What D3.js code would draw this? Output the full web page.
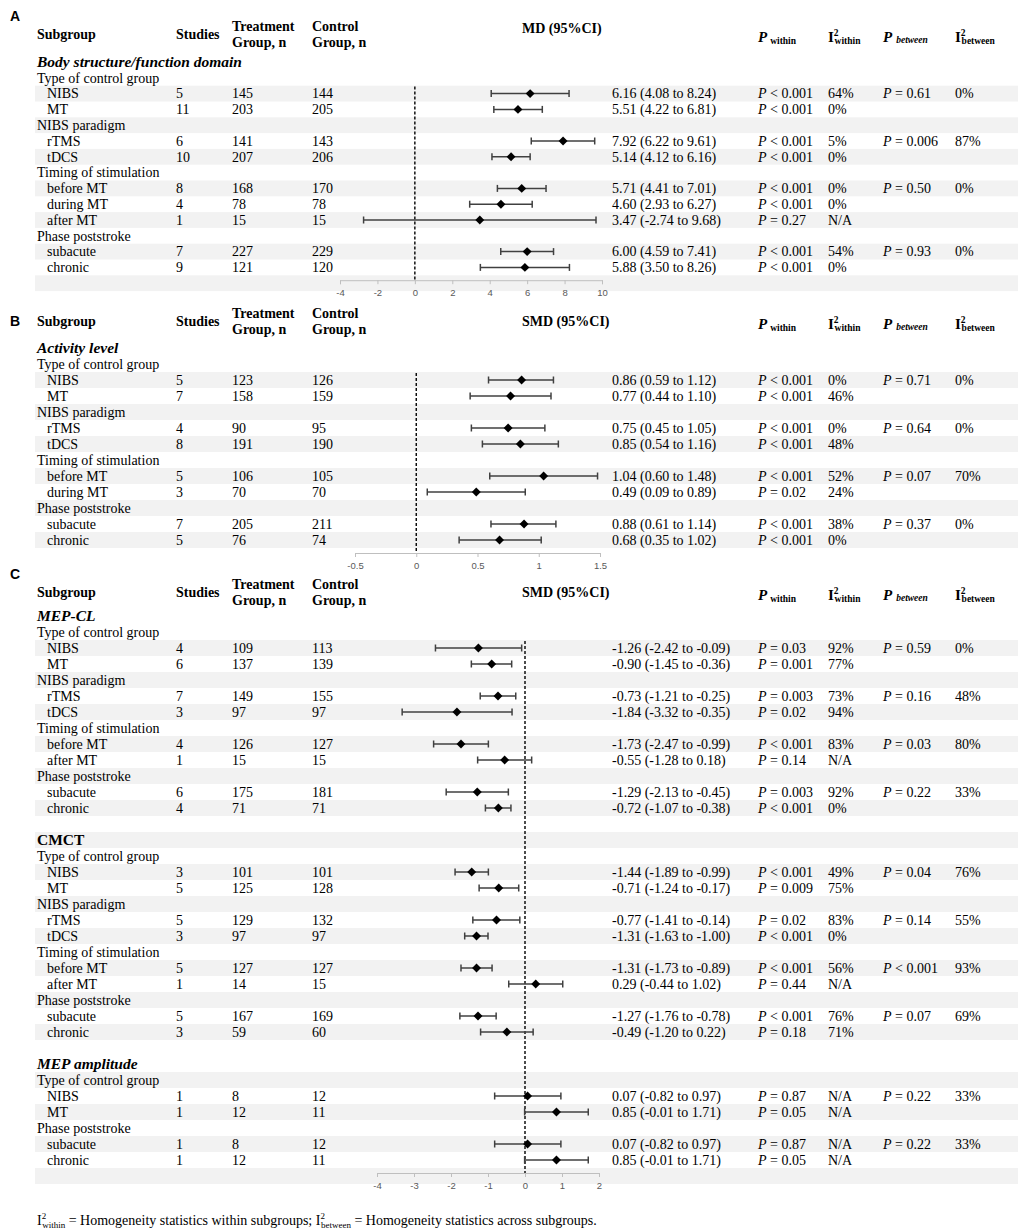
<!DOCTYPE html>
<html>
<head>
<meta charset="utf-8">
<script src="https://cdn.jsdelivr.net/npm/d3@7"></script>
<style>
	body { margin: 0; background: #fff; }
	text { font-family: 'Liberation Serif', 'Times New Roman', serif; }
</style>
</head>
<body>
<script>
let width = 1021;
let height = 1229;

// rows: [label, studies, treatment n, control n, est, lower, upper, P within, I2 within, P between, I2 between]
const bodyRows = [
	['Type of control group'],
	['NIBS', 5, 145, 144, 6.16, 4.08, 8.24, '< 0.001', '64%', '= 0.61', '0%'],
	['MT', 11, 203, 205, 5.51, 4.22, 6.81, '< 0.001', '0%'],
	['NIBS paradigm'],
	['rTMS', 6, 141, 143, 7.92, 6.22, 9.61, '< 0.001', '5%', '= 0.006', '87%'],
	['tDCS', 10, 207, 206, 5.14, 4.12, 6.16, '< 0.001', '0%'],
	['Timing of stimulation'],
	['before MT', 8, 168, 170, 5.71, 4.41, 7.01, '< 0.001', '0%', '= 0.50', '0%'],
	['during MT', 4, 78, 78, 4.60, 2.93, 6.27, '< 0.001', '0%'],
	['after MT', 1, 15, 15, 3.47, -2.74, 9.68, '= 0.27', 'N/A'],
	['Phase poststroke'],
	['subacute', 7, 227, 229, 6.00, 4.59, 7.41, '< 0.001', '54%', '= 0.93', '0%'],
	['chronic', 9, 121, 120, 5.88, 3.50, 8.26, '< 0.001', '0%']
];

const activityRows = [
	['Type of control group'],
	['NIBS', 5, 123, 126, 0.86, 0.59, 1.12, '< 0.001', '0%', '= 0.71', '0%'],
	['MT', 7, 158, 159, 0.77, 0.44, 1.10, '< 0.001', '46%'],
	['NIBS paradigm'],
	['rTMS', 4, 90, 95, 0.75, 0.45, 1.05, '< 0.001', '0%', '= 0.64', '0%'],
	['tDCS', 8, 191, 190, 0.85, 0.54, 1.16, '< 0.001', '48%'],
	['Timing of stimulation'],
	['before MT', 5, 106, 105, 1.04, 0.60, 1.48, '< 0.001', '52%', '= 0.07', '70%'],
	['during MT', 3, 70, 70, 0.49, 0.09, 0.89, '= 0.02', '24%'],
	['Phase poststroke'],
	['subacute', 7, 205, 211, 0.88, 0.61, 1.14, '< 0.001', '38%', '= 0.37', '0%'],
	['chronic', 5, 76, 74, 0.68, 0.35, 1.02, '< 0.001', '0%']
];

const mepclRows = [
	['Type of control group'],
	['NIBS', 4, 109, 113, -1.26, -2.42, -0.09, '= 0.03', '92%', '= 0.59', '0%'],
	['MT', 6, 137, 139, -0.90, -1.45, -0.36, '= 0.001', '77%'],
	['NIBS paradigm'],
	['rTMS', 7, 149, 155, -0.73, -1.21, -0.25, '= 0.003', '73%', '= 0.16', '48%'],
	['tDCS', 3, 97, 97, -1.84, -3.32, -0.35, '= 0.02', '94%'],
	['Timing of stimulation'],
	['before MT', 4, 126, 127, -1.73, -2.47, -0.99, '< 0.001', '83%', '= 0.03', '80%'],
	['after MT', 1, 15, 15, -0.55, -1.28, 0.18, '= 0.14', 'N/A'],
	['Phase poststroke'],
	['subacute', 6, 175, 181, -1.29, -2.13, -0.45, '= 0.003', '92%', '= 0.22', '33%'],
	['chronic', 4, 71, 71, -0.72, -1.07, -0.38, '< 0.001', '0%']
];

const cmctRows = [
	['Type of control group'],
	['NIBS', 3, 101, 101, -1.44, -1.89, -0.99, '< 0.001', '49%', '= 0.04', '76%'],
	['MT', 5, 125, 128, -0.71, -1.24, -0.17, '= 0.009', '75%'],
	['NIBS paradigm'],
	['rTMS', 5, 129, 132, -0.77, -1.41, -0.14, '= 0.02', '83%', '= 0.14', '55%'],
	['tDCS', 3, 97, 97, -1.31, -1.63, -1.00, '< 0.001', '0%'],
	['Timing of stimulation'],
	['before MT', 5, 127, 127, -1.31, -1.73, -0.89, '< 0.001', '56%', '< 0.001', '93%'],
	['after MT', 1, 14, 15, 0.29, -0.44, 1.02, '= 0.44', 'N/A'],
	['Phase poststroke'],
	['subacute', 5, 167, 169, -1.27, -1.76, -0.78, '< 0.001', '76%', '= 0.07', '69%'],
	['chronic', 3, 59, 60, -0.49, -1.20, 0.22, '= 0.18', '71%']
];

const mepampRows = [
	['Type of control group'],
	['NIBS', 1, 8, 12, 0.07, -0.82, 0.97, '= 0.87', 'N/A', '= 0.22', '33%'],
	['MT', 1, 12, 11, 0.85, -0.01, 1.71, '= 0.05', 'N/A'],
	['Phase poststroke'],
	['subacute', 1, 8, 12, 0.07, -0.82, 0.97, '= 0.87', 'N/A', '= 0.22', '33%'],
	['chronic', 1, 12, 11, 0.85, -0.01, 1.71, '= 0.05', 'N/A']
];

const ticksA = [-4, -2, 0, 2, 4, 6, 8, 10];
const ticksB = [-0.5, 0, 0.5, 1, 1.5];
const ticksC = [-4, -3, -2, -1, 0, 1, 2];

let svg = d3.select('body').append('svg')
	.attr('width', width)
	.attr('height', height);

const colX = { label: 37, indent: 47, studies: 176, treat: 232, ctrl: 312, eff: 612, pw: 758, iw: 828, pb: 883, ib: 955 };
const shade = '#f2f2f2';
const fs = 14;

function seqOf(parts) {
	let seq = [];
	for (let p of parts) {
		if (p[0] === 'rows') {
			for (let r of p[1]) {
				seq.push(r.length === 1 ? { kind: 'group', text: r[0] } : { kind: 'item', r: r });
			}
		} else {
			seq.push({ kind: p[0], text: p[1] });
		}
	}
	return seq;
}

function put(g, x, y, s, size, weight, style) {
	return g.append('text')
		.attr('x', x)
		.attr('y', y)
		.style('font-size', (size || fs) + 'px')
		.style('font-weight', weight || 'normal')
		.style('font-style', style || 'normal')
		.style('fill', '#000')
		.text(s);
}

function pText(g, x, y, s) {
	let t = g.append('text')
		.attr('x', x)
		.attr('y', y)
		.style('font-size', fs + 'px');
	t.append('tspan').style('font-style', 'italic').text('P');
	t.append('tspan').text(' ' + s);
}

function drawPanel(cfg) {
	let g = svg.append('g');
	let seq = cfg.seq;
	let pitch = cfg.pitch;
	let yOf = i => cfg.titleY + i * pitch;
	let axisIdx = seq.length;

	// stripes: italic titles stay white and are skipped by the alternation
	let k = -1;
	seq.forEach(d => {
		if (d.kind === 'ititle') { d.gray = false; return; }
		k++;
		d.gray = k % 2 === 1;
	});
	k++;
	let axisGray = k % 2 === 1;

	let bands = seq.map((d, i) => ({ gray: d.gray, i: i }));
	bands.push({ gray: axisGray, i: axisIdx });
	g.selectAll('.band')
		.data(bands.filter(b => b.gray))
		.enter().append('rect')
		.attr('x', 35)
		.attr('y', b => yOf(b.i) - pitch / 2)
		.attr('width', 1018 - 35)
		.attr('height', pitch)
		.style('fill', shade);

	// letter + header
	g.append('text')
		.attr('x', 10)
		.attr('y', cfg.letterY + 5)
		.style('font-family', "'Liberation Sans', Arial, sans-serif")
		.style('font-size', '14px')
		.style('font-weight', 'bold')
		.text(cfg.letter);

	let hb = cfg.headY + 4.8;
	put(g, colX.label, hb, 'Subgroup', fs, 'bold');
	put(g, colX.studies, hb, 'Studies', fs, 'bold');
	put(g, colX.treat, cfg.headY - 8 + 4.8, 'Treatment', fs, 'bold');
	put(g, colX.treat, cfg.headY + 8 + 4.8, 'Group, n', fs, 'bold');
	put(g, colX.ctrl, cfg.headY - 8 + 4.8, 'Control', fs, 'bold');
	put(g, colX.ctrl, cfg.headY + 8 + 4.8, 'Group, n', fs, 'bold');
	put(g, 522, cfg.effY + 4.8, cfg.effLabel, fs, 'bold');

	let pb = cfg.headY + 3 + 4.8;
	let t = g.append('text').attr('x', colX.pw).attr('y', pb).style('font-weight', 'bold').style('font-size', '15px');
	t.append('tspan').style('font-style', 'italic').text('P');
	t.append('tspan').attr('dx', 3).attr('dy', 2).style('font-size', '9.5px').text('within');

	t = g.append('text').attr('x', colX.iw).attr('y', pb).style('font-weight', 'bold').style('font-size', '15px');
	t.append('tspan').text('I');
	t.append('tspan').attr('dy', -6).style('font-size', '9.5px').text('2');
	t.append('tspan').attr('dx', -4).attr('dy', 8).style('font-size', '9.5px').text('within');

	t = g.append('text').attr('x', colX.pb).attr('y', pb).style('font-weight', 'bold').style('font-size', '15px');
	t.append('tspan').style('font-style', 'italic').text('P');
	t.append('tspan').attr('dx', 4).attr('dy', 1).style('font-size', '9.5px').style('font-style', 'italic').text('between');

	t = g.append('text').attr('x', colX.ib).attr('y', pb).style('font-weight', 'bold').style('font-size', '15px');
	t.append('tspan').text('I');
	t.append('tspan').attr('dy', -6).style('font-size', '9.5px').text('2');
	t.append('tspan').attr('dx', -4).attr('dy', 8).style('font-size', '9.5px').text('between');

	let x = d3.scaleLinear().domain(cfg.domain).range(cfg.range);

	// rows
	let firstItem = null;
	seq.forEach((d, i) => {
		let y = yOf(i);
		let b = y + 4.8;
		if (d.kind === 'ititle') {
			put(g, colX.label, b, d.text, 15.5, 'bold', 'italic');
		} else if (d.kind === 'title') {
			put(g, colX.label, b, d.text, 15.5, 'bold');
		} else if (d.kind === 'group') {
			put(g, colX.label, b, d.text);
		} else if (d.kind === 'item') {
			let r = d.r;
			if (firstItem === null) firstItem = y;
			put(g, colX.indent, b, r[0]);
			put(g, colX.studies, b, r[1]);
			put(g, colX.treat, b, r[2]);
			put(g, colX.ctrl, b, r[3]);
			put(g, colX.eff, b, r[4].toFixed(2) + ' (' + r[5].toFixed(2) + ' to ' + r[6].toFixed(2) + ')');
			pText(g, colX.pw, b, r[7]);
			put(g, colX.iw, b, r[8]);
			if (r[9]) pText(g, colX.pb, b, r[9]);
			if (r[10]) put(g, colX.ib, b, r[10]);
		}
	});

	let axisY = yOf(axisIdx) - 3;

	// zero line
	g.append('line')
		.attr('x1', x(0))
		.attr('x2', x(0))
		.attr('y1', firstItem - 7)
		.attr('y2', axisY)
		.style('stroke', '#000')
		.style('stroke-width', 1.4)
		.style('stroke-dasharray', '3,2');

	// CI lines, caps and diamonds
	let items = seq.map((d, i) => ({ d: d, y: yOf(i) })).filter(o => o.d.kind === 'item');
	g.selectAll('.ci')
		.data(items)
		.enter().append('line')
		.attr('x1', o => x(o.d.r[5]))
		.attr('x2', o => x(o.d.r[6]))
		.attr('y1', o => o.y)
		.attr('y2', o => o.y)
		.style('stroke', '#404040')
		.style('stroke-width', 1.5);
	[5, 6].forEach(j => {
		g.selectAll('.cap' + j)
			.data(items)
			.enter().append('line')
			.attr('x1', o => x(o.d.r[j]))
			.attr('x2', o => x(o.d.r[j]))
			.attr('y1', o => o.y - 3.5)
			.attr('y2', o => o.y + 3.5)
			.style('stroke', '#404040')
			.style('stroke-width', 1.5);
	});
	g.selectAll('.pt')
		.data(items)
		.enter().append('path')
		.attr('d', d3.symbol().type(d3.symbolSquare).size(40))
		.attr('transform', o => 'translate(' + x(o.d.r[4]) + ',' + o.y + ') rotate(45)')
		.style('fill', '#000');

	// axis
	let ax = g.append('g')
		.attr('transform', 'translate(0,' + axisY + ')')
		.call(d3.axisBottom(x).tickValues(cfg.ticks).tickSize(4).tickPadding(5).tickSizeOuter(4).tickFormat(v => String(v)));
	ax.select('.domain').style('stroke', '#bfbfbf');
	ax.selectAll('.tick line').style('stroke', '#bfbfbf');
	ax.selectAll('.tick text')
		.style('font-family', "'Liberation Sans', Arial, sans-serif")
		.style('font-size', '9.5px')
		.style('fill', '#595959');
}

drawPanel({
	letter: 'A', letterY: 16, headY: 34, effY: 28, effLabel: 'MD (95%CI)',
	titleY: 62, pitch: 15.8,
	seq: seqOf([['ititle', 'Body structure/function domain'], ['rows', bodyRows]]),
	domain: [-4, 10], range: [340, 602], ticks: ticksA
});

drawPanel({
	letter: 'B', letterY: 321, headY: 321, effY: 321, effLabel: 'SMD (95%CI)',
	titleY: 348, pitch: 16,
	seq: seqOf([['ititle', 'Activity level'], ['rows', activityRows]]),
	domain: [-0.5, 1.5], range: [355, 600], ticks: ticksB
});

drawPanel({
	letter: 'C', letterY: 574, headY: 592, effY: 592, effLabel: 'SMD (95%CI)',
	titleY: 616, pitch: 16,
	seq: seqOf([
		['ititle', 'MEP-CL'], ['rows', mepclRows], ['blank', ''],
		['title', 'CMCT'], ['rows', cmctRows], ['blank', ''],
		['ititle', 'MEP amplitude'], ['rows', mepampRows]
	]),
	domain: [-4, 2], range: [377, 599], ticks: ticksC
});

// footnote
let fn = svg.append('text')
	.attr('x', 37)
	.attr('y', 1225)
	.style('font-size', '14px');
fn.append('tspan').text('I');
fn.append('tspan').attr('dy', -6).style('font-size', '9px').text('2');
fn.append('tspan').attr('dx', -4).attr('dy', 9).style('font-size', '9px').text('within');
fn.append('tspan').attr('dy', -3).text(' = Homogeneity statistics within subgroups; I');
fn.append('tspan').attr('dy', -6).style('font-size', '9px').text('2');
fn.append('tspan').attr('dx', -4).attr('dy', 9).style('font-size', '9px').text('between');
fn.append('tspan').attr('dy', -3).text(' = Homogeneity statistics across subgroups.');
</script>
</body>
</html>
